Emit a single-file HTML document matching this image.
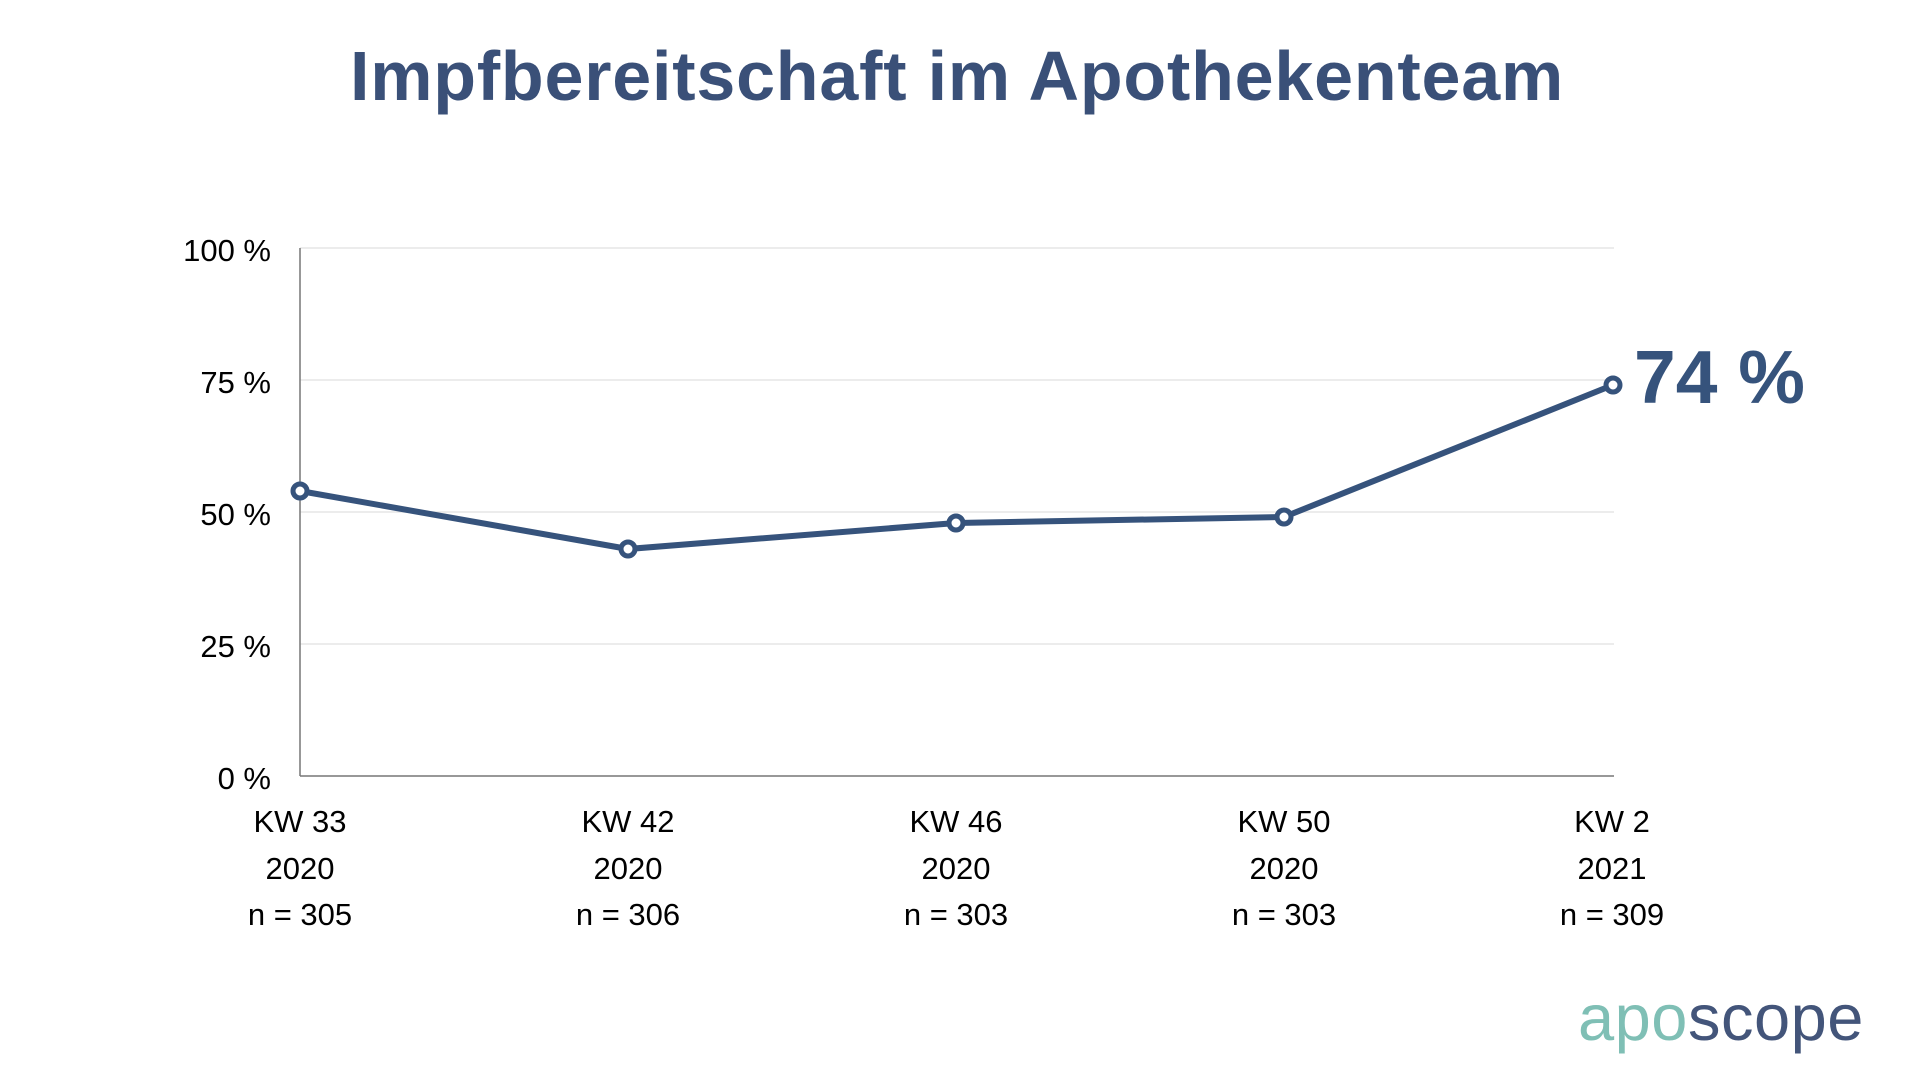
<!DOCTYPE html>
<html><head><meta charset="utf-8"><style>
html,body{margin:0;padding:0;background:#fff;width:1920px;height:1080px;overflow:hidden}
</style></head><body>
<svg width="1920" height="1080" viewBox="0 0 1920 1080" xmlns="http://www.w3.org/2000/svg" font-family="Liberation Sans, sans-serif">
<text x="957" y="100" text-anchor="middle" font-size="70" font-weight="bold" fill="#3a5078" letter-spacing="0.8">Impfbereitschaft im Apothekenteam</text>
<g stroke="#e6e6e6" stroke-width="1.5">
<line x1="300" y1="248" x2="1614" y2="248"/>
<line x1="300" y1="380" x2="1614" y2="380"/>
<line x1="300" y1="512" x2="1614" y2="512"/>
<line x1="300" y1="644" x2="1614" y2="644"/>
</g>
<line x1="300" y1="248" x2="300" y2="776" stroke="#777" stroke-width="1.5"/>
<line x1="300" y1="776" x2="1614" y2="776" stroke="#777" stroke-width="1.5"/>
<g font-size="31" fill="#000" text-anchor="end">
<text x="271" y="261">100 %</text>
<text x="271" y="393">75 %</text>
<text x="271" y="525">50 %</text>
<text x="271" y="657">25 %</text>
<text x="271" y="789">0 %</text>
</g>
<g font-size="31" fill="#000" text-anchor="middle">
<text x="300" y="832">KW 33</text><text x="300" y="879">2020</text><text x="300" y="925">n = 305</text>
<text x="628" y="832">KW 42</text><text x="628" y="879">2020</text><text x="628" y="925">n = 306</text>
<text x="956" y="832">KW 46</text><text x="956" y="879">2020</text><text x="956" y="925">n = 303</text>
<text x="1284" y="832">KW 50</text><text x="1284" y="879">2020</text><text x="1284" y="925">n = 303</text>
<text x="1612" y="832">KW 2</text><text x="1612" y="879">2021</text><text x="1612" y="925">n = 309</text>
</g>
<polyline points="300,491 628,549 956,523 1284,517 1613,385" fill="none" stroke="#36537c" stroke-width="6" stroke-linejoin="round"/>
<g fill="#fff" stroke="#36537c" stroke-width="5">
<circle cx="300" cy="491" r="7"/><circle cx="628" cy="549" r="7"/><circle cx="956" cy="523" r="7"/><circle cx="1284" cy="517" r="7"/><circle cx="1613" cy="385" r="7"/>
</g>
<text x="1634" y="403" font-size="75" font-weight="bold" fill="#36537c">74 %</text>
<text x="1578" y="1040" font-size="65" letter-spacing="0.5"><tspan fill="#7fbfb5">apo</tspan><tspan fill="#43557a">scope</tspan></text>
</svg>
</body></html>
